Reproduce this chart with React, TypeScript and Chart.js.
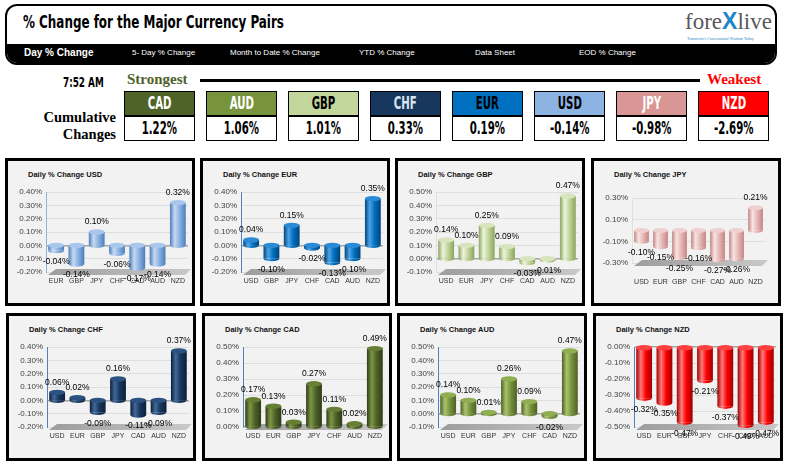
import React, { useEffect, useRef } from 'react';
import { Chart, registerables } from 'chart.js';

Chart.register(...registerables);

// ---------- DATA ----------
const PAGE_TITLE = '% Change for the Major Currency Pairs';
const NAV_ITEMS = ['Day % Change', '5- Day % Change', 'Month to Date % Change', 'YTD % Change', 'Data Sheet', 'EOD % Change'];
const TIME_LABEL = '7:52 AM';
const RANK_CURRENCIES = ['CAD', 'AUD', 'GBP', 'CHF', 'EUR', 'USD', 'JPY', 'NZD'];
const CUMULATIVE_CHANGES = [1.22, 1.06, 1.01, 0.33, 0.19, -0.14, -0.98, -2.69];

const USD_PAIRS = ['EUR', 'GBP', 'JPY', 'CHF', 'CAD', 'AUD', 'NZD'];
const USD_CHANGE = [-0.04, -0.14, 0.10, -0.06, -0.17, -0.14, 0.32];
const USD_AXIS = [-0.2, 0.4];

const EUR_PAIRS = ['USD', 'GBP', 'JPY', 'CHF', 'CAD', 'AUD', 'NZD'];
const EUR_CHANGE = [0.04, -0.10, 0.15, -0.02, -0.13, -0.10, 0.35];
const EUR_AXIS = [-0.2, 0.4];

const GBP_PAIRS = ['USD', 'EUR', 'JPY', 'CHF', 'CAD', 'AUD', 'NZD'];
const GBP_CHANGE = [0.14, 0.10, 0.25, 0.09, -0.03, -0.01, 0.47];
const GBP_AXIS = [-0.1, 0.5];

const JPY_PAIRS = ['USD', 'EUR', 'GBP', 'CHF', 'CAD', 'AUD', 'NZD'];
const JPY_CHANGE = [-0.10, -0.15, -0.25, -0.16, -0.27, -0.26, 0.21];
const JPY_AXIS = [-0.3, 0.3];

const CHF_PAIRS = ['USD', 'EUR', 'GBP', 'JPY', 'CAD', 'AUD', 'NZD'];
const CHF_CHANGE = [0.06, 0.02, -0.09, 0.16, -0.11, -0.09, 0.37];
const CHF_AXIS = [-0.2, 0.4];

const CAD_PAIRS = ['USD', 'EUR', 'GBP', 'JPY', 'CHF', 'AUD', 'NZD'];
const CAD_CHANGE = [0.17, 0.13, 0.03, 0.27, 0.11, 0.02, 0.49];
const CAD_AXIS = [0, 0.5];

const AUD_PAIRS = ['USD', 'EUR', 'GBP', 'JPY', 'CHF', 'CAD', 'NZD'];
const AUD_CHANGE = [0.14, 0.10, 0.01, 0.26, 0.09, -0.02, 0.47];
const AUD_AXIS = [-0.1, 0.5];

const NZD_PAIRS = ['USD', 'EUR', 'GBP', 'JPY', 'CHF', 'CAD', 'AUD'];
const NZD_CHANGE = [-0.32, -0.35, -0.47, -0.21, -0.37, -0.49, -0.47];
const NZD_AXIS = [-0.5, 0];

// ---------- STYLE ----------
const COND = '"Liberation Sans Narrow", "DejaVu Sans Condensed", "Arial Narrow", sans-serif';
const SANS = '"Liberation Sans", Arial, sans-serif';
const SERIF = '"Liberation Serif", "Times New Roman", serif';

const HEAD_STYLE: Record<string, { bg: string; fg: string }> = {
  CAD: { bg: '#4f6228', fg: '#ffffff' },
  AUD: { bg: '#77933c', fg: '#ffffff' },
  GBP: { bg: '#c3d69b', fg: '#000000' },
  CHF: { bg: '#17375e', fg: '#dbe5f1' },
  EUR: { bg: '#0070c0', fg: '#000000' },
  USD: { bg: '#8db3e2', fg: '#000000' },
  JPY: { bg: '#d99694', fg: '#ffffff' },
  NZD: { bg: '#ff0000', fg: '#ffffff' },
};

type Pal = { dark: string; base: string; light: string; cap: string; axis: string };
const PAL: Record<string, Pal> = {
  USD: { dark: '#4a7ebb', base: '#8db3e2', light: '#c6d9f1', cap: '#a9c6ec', axis: '#8db3e2' },
  EUR: { dark: '#00457a', base: '#0070c0', light: '#4da3e6', cap: '#2b8ad6', axis: '#4f81bd' },
  GBP: { dark: '#8aa55a', base: '#c3d69b', light: '#eef4e0', cap: '#d7e4bd', axis: '#e0e0e0' },
  JPY: { dark: '#c48583', base: '#e6b9b8', light: '#f7e4e3', cap: '#f0d0cf', axis: '#e0e0e0' },
  CHF: { dark: '#0c1f38', base: '#17375e', light: '#41699a', cap: '#2c5282', axis: '#4f81bd' },
  CAD: { dark: '#2f3b17', base: '#4f6228', light: '#7d9744', cap: '#667f34', axis: '#4f81bd' },
  AUD: { dark: '#4d6026', base: '#77933c', light: '#a9c46c', cap: '#8fae52', axis: '#4f81bd' },
  NZD: { dark: '#a00000', base: '#ff0000', light: '#ff7a7a', cap: '#ff4040', axis: '#4f81bd' },
};

const fmt = (v: number) => (Math.abs(v) < 1e-9 ? 0 : v).toFixed(2) + '%';

const cylinderPlugin = {
  id: 'cylinder',
  beforeDatasetsDraw(chart: any) {
    const { ctx, scales } = chart;
    const yb = scales.y.bottom;
    const l = scales.x.left;
    const r = scales.x.right;
    ctx.save();
    ctx.beginPath();
    ctx.moveTo(l + 10, yb - 3);
    ctx.lineTo(r + 3, yb - 3);
    ctx.lineTo(r - 3, yb + 3);
    ctx.lineTo(l + 2, yb + 3);
    ctx.closePath();
    const g = ctx.createLinearGradient(l, 0, r, 0);
    g.addColorStop(0, '#9c9c9c');
    g.addColorStop(1, '#c8c8c8');
    ctx.fillStyle = g;
    ctx.fill();
    ctx.restore();
  },
  afterDatasetsDraw(chart: any, _a: any, opts: any) {
    const ctx = chart.ctx;
    const meta = chart.getDatasetMeta(0);
    const values = chart.data.datasets[0].data as number[];
    meta.data.forEach((el: any) => {
      const { x, y, base, width } = el.getProps(['x', 'y', 'base', 'width'], true);
      const top = Math.min(y, base);
      const bot = Math.max(y, base);
      const rx = width / 2;
      const ry = Math.max(2, width * 0.17);
      ctx.save();
      ctx.beginPath();
      ctx.ellipse(x, bot, rx, ry, 0, 0, Math.PI);
      ctx.fillStyle = el.options.backgroundColor;
      ctx.fill();
      ctx.beginPath();
      ctx.ellipse(x, top, rx, ry, 0, 0, Math.PI * 2);
      ctx.fillStyle = opts.cap;
      ctx.fill();
      ctx.restore();
    });
    ctx.save();
    ctx.font = `8.5px ${SANS}`;
    ctx.fillStyle = '#000';
    ctx.textAlign = 'center';
    ctx.textBaseline = 'middle';
    meta.data.forEach((el: any, i: number) => {
      const { x, y, base } = el.getProps(['x', 'y', 'base'], true);
      const v = values[i];
      const ty = v >= 0 ? Math.min(y, base) - 10 : Math.max(y, base) + 11;
      ctx.fillText(fmt(v), x, ty);
    });
    ctx.restore();
  },
};

type PanelProps = {
  left: number;
  top: number;
  cur: string;
  labels: string[];
  values: number[];
  axis: number[];
  padTop?: number;
  xPad?: number;
  xHeight?: number;
};

function Panel({ left, top, cur, labels, values, axis, padTop = 31, xPad = 5, xHeight = 14 }: PanelProps) {
  const ref = useRef<HTMLCanvasElement>(null);
  useEffect(() => {
    const pal = PAL[cur];
    const BAR = 0.78;
    const chart = new Chart(ref.current!, {
      type: 'bar',
      data: {
        labels,
        datasets: [
          {
            data: values,
            borderWidth: 0,
            barPercentage: BAR,
            categoryPercentage: 1,
            backgroundColor: (c: any) => {
              const ch = c.chart;
              const xs = ch.scales && ch.scales.x;
              if (!xs || !ch.chartArea || c.type !== 'data') return pal.base;
              const cx = xs.getPixelForValue(c.dataIndex);
              const w = (xs.width / labels.length) * BAR;
              const g = ch.ctx.createLinearGradient(cx - w / 2, 0, cx + w / 2, 0);
              g.addColorStop(0, pal.dark);
              g.addColorStop(0.3, pal.light);
              g.addColorStop(0.6, pal.base);
              g.addColorStop(1, pal.dark);
              return g;
            },
          },
        ],
      },
      options: {
        animation: false,
        responsive: false,
        maintainAspectRatio: false,
        layout: { padding: { left: 3, right: 4, top: padTop, bottom: 17 } },
        plugins: {
          legend: { display: false },
          tooltip: { enabled: false },
          title: { display: false },
          cylinder: { cap: pal.cap },
        } as any,
        scales: {
          x: {
            afterFit: (s: any) => {
              s.height = xHeight;
            },
            grid: { display: false, drawTicks: false },
            border: { display: false },
            ticks: {
              padding: xPad,
              color: '#333',
              font: { size: 7, family: SANS },
              maxRotation: 0,
              autoSkip: false,
            },
          },
          y: {
            min: axis[0],
            max: axis[1],
            afterFit: (s: any) => {
              s.width = 35;
            },
            ticks: {
              stepSize: 0.1,
              padding: 4,
              color: '#404040',
              font: { size: 8, family: SANS },
              callback: (v: any) => fmt(Number(v)),
            },
            grid: {
              drawTicks: false,
              color: (c: any) => (Math.abs(c.tick.value) < 1e-9 ? '#a6a6a6' : '#dedede'),
              lineWidth: (c: any) => (Math.abs(c.tick.value) < 1e-9 ? 1.5 : 1),
            },
            border: { color: pal.axis, width: 1 },
          },
        },
      },
      plugins: [cylinderPlugin as any],
    });
    return () => chart.destroy();
  }, []);
  return (
    <div
      style={{
        position: 'absolute',
        left,
        top,
        width: 184,
        height: 142,
        border: '3px solid #000',
        background: '#f2f2f2',
      }}
    >
      <div
        style={{
          position: 'absolute',
          left: 20,
          top: 9,
          font: `bold 7.5px ${SANS}`,
          color: '#111',
          whiteSpace: 'nowrap',
        }}
      >
        {`Daily % Change ${cur}`}
      </div>
      <canvas ref={ref} width={184} height={142} style={{ position: 'absolute', left: 0, top: 0 }} />
    </div>
  );
}

const PANELS: PanelProps[] = [
  { left: 5, top: 158, cur: 'USD', labels: USD_PAIRS, values: USD_CHANGE, axis: USD_AXIS },
  { left: 200, top: 158, cur: 'EUR', labels: EUR_PAIRS, values: EUR_CHANGE, axis: EUR_AXIS },
  { left: 395, top: 158, cur: 'GBP', labels: GBP_PAIRS, values: GBP_CHANGE, axis: GBP_AXIS },
  { left: 591, top: 158, cur: 'JPY', labels: JPY_PAIRS, values: JPY_CHANGE, axis: JPY_AXIS, padTop: 37, xPad: 15, xHeight: 23 },
  { left: 6, top: 313, cur: 'CHF', labels: CHF_PAIRS, values: CHF_CHANGE, axis: CHF_AXIS },
  { left: 202, top: 313, cur: 'CAD', labels: CAD_PAIRS, values: CAD_CHANGE, axis: CAD_AXIS },
  { left: 397, top: 313, cur: 'AUD', labels: AUD_PAIRS, values: AUD_CHANGE, axis: AUD_AXIS },
  { left: 593, top: 313, cur: 'NZD', labels: NZD_PAIRS, values: NZD_CHANGE, axis: NZD_AXIS },
];

const NAV_X = [17, 125, 223, 352, 468, 572];

function Header() {
  return (
    <div
      style={{
        position: 'absolute',
        left: 5,
        top: 4,
        width: 768,
        height: 57,
        border: '2px solid #000',
        borderRadius: 12,
        overflow: 'hidden',
        background: '#fff',
      }}
    >
      <div
        style={{
          position: 'absolute',
          left: 16,
          top: 6,
          font: `bold 17px ${COND}`,
          transform: 'scale(0.78, 1.08)',
          transformOrigin: 'left center',
          whiteSpace: 'nowrap',
          color: '#000',
        }}
      >
        {PAGE_TITLE}
      </div>
      <div style={{ position: 'absolute', left: 678, top: 2, whiteSpace: 'nowrap' }}>
        <span style={{ font: `23px ${SERIF}`, color: '#58595b' }}>fore</span>
        <span style={{ font: `bold 23px ${SANS}`, color: '#1f86c8' }}>X</span>
        <span style={{ font: `23px ${SERIF}`, color: '#58595b' }}>live</span>
      </div>
      <div
        style={{
          position: 'absolute',
          left: 680,
          top: 30,
          font: `4px ${SERIF}`,
          color: '#1f86c8',
          whiteSpace: 'nowrap',
        }}
      >
        Tomorrow's Conventional Wisdom Today
      </div>
      <div style={{ position: 'absolute', left: 0, right: 0, bottom: 0, height: 19, background: '#000' }}>
        {NAV_ITEMS.map((t, i) => (
          <div
            key={t}
            style={{
              position: 'absolute',
              left: NAV_X[i],
              top: i === 0 ? 3 : 4,
              font: i === 0 ? `bold 10px ${SANS}` : `8px ${SANS}`,
              color: '#fff',
              whiteSpace: 'nowrap',
            }}
          >
            {t}
          </div>
        ))}
      </div>
    </div>
  );
}

function Ranking() {
  return (
    <>
      <div
        style={{
          position: 'absolute',
          left: 63,
          top: 75,
          font: `bold 12px ${COND}`,
          transform: 'scale(0.82, 1.15)',
          transformOrigin: 'left center',
          whiteSpace: 'nowrap',
        }}
      >
        {TIME_LABEL}
      </div>
      <div
        style={{ position: 'absolute', left: 127, top: 71, font: `bold 15px ${SERIF}`, color: '#4f6228', whiteSpace: 'nowrap' }}
      >
        Strongest
      </div>
      <div style={{ position: 'absolute', left: 200, top: 79, width: 500, height: 3, background: '#000' }} />
      <div
        style={{ position: 'absolute', left: 707, top: 71, font: `bold 15px ${SERIF}`, color: '#ff0000', whiteSpace: 'nowrap' }}
      >
        Weakest
      </div>
      <div
        style={{
          position: 'absolute',
          left: 20,
          width: 96,
          top: 109,
          font: `bold 14.5px/17px ${SERIF}`,
          textAlign: 'right',
        }}
      >
        Cumulative
        <br />
        Changes
      </div>
      {RANK_CURRENCIES.map((c, i) => {
        const x = 124 + i * 82;
        const st = HEAD_STYLE[c];
        const box = {
          position: 'absolute' as const,
          left: x,
          width: 69,
          height: 23,
          border: '1.5px solid #000',
          display: 'flex',
          alignItems: 'center',
          justifyContent: 'center',
        };
        const txt = {
          font: `bold 13px ${COND}`,
          display: 'inline-block',
          transform: 'scale(0.87, 1.3)',
        };
        return (
          <React.Fragment key={c}>
            <div style={{ ...box, top: 91, background: st.bg }}>
              <span style={{ ...txt, color: st.fg }}>{c}</span>
            </div>
            <div style={{ ...box, top: 116, background: '#fff' }}>
              <span style={{ ...txt, color: '#000' }}>{CUMULATIVE_CHANGES[i].toFixed(2) + '%'}</span>
            </div>
          </React.Fragment>
        );
      })}
    </>
  );
}

export default function App() {
  return (
    <div style={{ position: 'absolute', left: 0, top: 0, width: 791, height: 467, background: '#fff', overflow: 'hidden' }}>
      <Header />
      <Ranking />
      {PANELS.map((p) => (
        <Panel key={p.cur} {...p} />
      ))}
    </div>
  );
}
